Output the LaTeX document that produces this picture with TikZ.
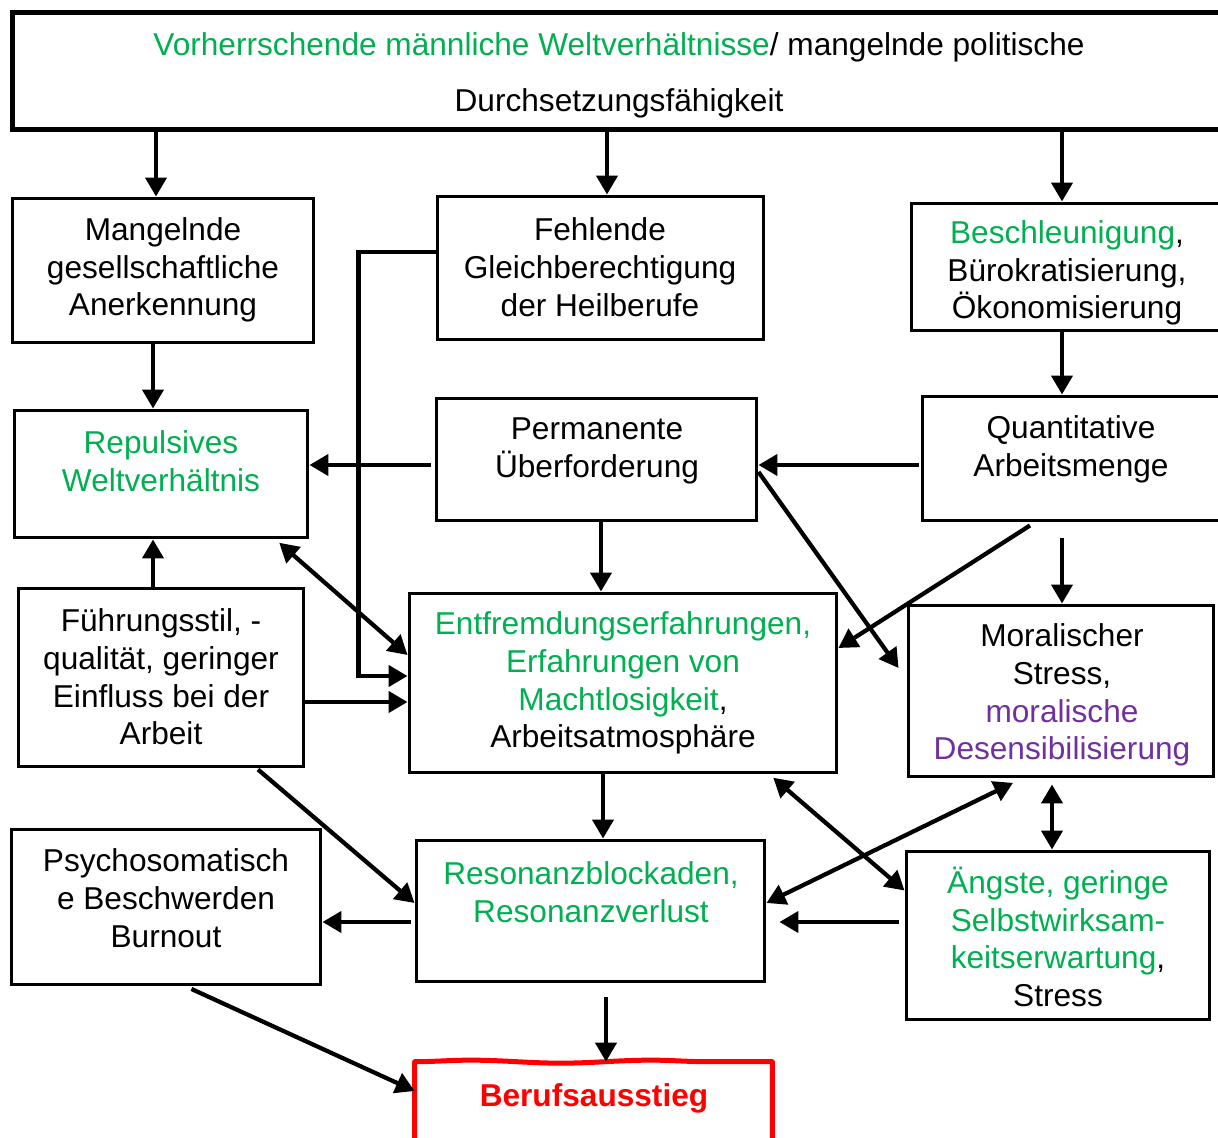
\documentclass[tikz,border=0pt]{standalone}
\usepackage{fontspec}
\setmainfont{Liberation Sans}
\usetikzlibrary{arrows.meta,decorations.pathmorphing}
\definecolor{grn}{RGB}{0,176,80}
\definecolor{purp}{RGB}{112,48,160}
\begin{document}
\begin{tikzpicture}[x=0.02cm,y=-0.02cm,
    every node/.style={font=\fontsize{18}{21.5}\selectfont},
    box/.style={draw,line width=0.06cm,inner sep=0pt},
    txt/.style={align=center,inner sep=0pt},
    arr/.style={line width=0.085cm,-{Triangle[length=0.38cm,width=0.42cm]}},
    darr/.style={line width=0.085cm,{Triangle[length=0.38cm,width=0.42cm]}-{Triangle[length=0.38cm,width=0.42cm]}},
    wave/.style={decoration={snake,amplitude=0.03cm,segment length=3.6cm}}]
    \useasboundingbox (0,0) rectangle (1218,1138);
    \node[box,line width=0.1cm,minimum width=24.76cm,minimum height=2.36cm] (top) at (631,71) {};
    \node[txt] (toptxt) at (619,75) {{\color{grn}Vorherrschende männliche Weltverhältnisse}/ mangelnde politische\\[0.36cm]Durchsetzungsfähigkeit};
    \node[box,minimum width=6.04cm,minimum height=2.9cm] (A) at (163,270.5) {};
    \node[txt] at (163,270) {Mangelnde\\gesellschaftliche\\Anerkennung};
    \node[box,minimum width=6.54cm,minimum height=2.88cm] (B) at (600.5,268) {};
    \node[txt] at (600,267) {Fehlende\\Gleichberechtigung\\der Heilberufe};
    \node[box,minimum width=6.58cm,minimum height=2.56cm] (C) at (1075.5,267) {};
    \node[txt] at (1067,273) {{\color{grn}Beschleunigung},\\Bürokratisierung,\\Ökonomisierung};
    \node[box,minimum width=5.88cm,minimum height=2.56cm] (D) at (161,474) {};
    \node[txt,text=grn] at (161,461) {Repulsives\\Weltverhältnis};
    \node[box,minimum width=6.42cm,minimum height=2.46cm] (E) at (596.5,459.5) {};
    \node[txt] at (597,451) {Permanente\\Überforderung};
    \node[box,minimum width=6.36cm,minimum height=2.5cm] (F) at (1081,458.5) {};
    \node[txt] at (1071,449) {Quantitative\\Arbeitsmenge};
    \node[box,minimum width=5.72cm,minimum height=3.58cm] (G) at (161,677.5) {};
    \node[txt] at (161,677) {Führungsstil, -\\qualität, geringer\\Einfluss bei der\\Arbeit};
    \node[box,minimum width=8.56cm,minimum height=3.6cm] (H) at (623,683) {};
    \node[txt] at (623,683) {{\color{grn}Entfremdungserfahrungen,}\\{\color{grn}Erfahrungen von}\\{\color{grn}Machtlosigkeit},\\Arbeitsatmosphäre};
    \node[box,minimum width=6.12cm,minimum height=3.44cm] (I) at (1061,691) {};
    \node[txt] at (1062,695) {Moralischer\\Stress,\\{\color{purp}moralische}\\{\color{purp}Desensibilisierung}};
    \node[box,minimum width=6.2cm,minimum height=3.12cm] (J) at (166,907) {};
    \node[txt] at (166,898) {Psychosomatisch\\e Beschwerden\\Burnout};
    \node[box,minimum width=6.98cm,minimum height=2.84cm] (K) at (590.5,911) {};
    \node[txt,text=grn] at (591,892) {Resonanzblockaden,\\Resonanzverlust};
    \node[box,minimum width=6.08cm,minimum height=3.38cm] (L) at (1058,935.5) {};
    \node[txt] at (1058,937) {{\color{grn}Ängste, geringe}\\{\color{grn}Selbstwirksam-}\\{\color{grn}keitserwartung},\\Stress};
    \node[inner sep=0pt,minimum width=7.14cm,minimum height=1.76cm] (M) at (593.5,1106) {};
    \draw[red,line width=0.1cm,line join=round,wave] (M.north west) decorate{-- (M.north east)}
        decorate{-- (M.south east)} decorate{-- (M.south west)} decorate{-- (M.north west)} -- cycle;
    \node[txt,text=red,font=\fontsize{18}{21.5}\selectfont\bfseries] at (594,1098) {Berufsausstieg};
    \draw[arr] ([xshift=-0.14cm]A.north |- top.south) -- ([xshift=-0.14cm]A.north);
    \draw[arr] ([xshift=0.13cm]B.north |- top.south) -- ([xshift=0.13cm]B.north);
    \draw[arr] ([xshift=-0.27cm]C.north |- top.south) -- ([xshift=-0.27cm]C.north);
    \draw[arr] ([xshift=-0.2cm]A.south) -- ([xshift=-0.2cm]A.south |- D.north);
    \draw[arr] ([xshift=-0.27cm]C.south) -- ([xshift=-0.27cm]C.south |- F.north);
    \draw[arr,shorten <=0.08cm] ([yshift=-0.11cm]E.west) -- ([yshift=-0.11cm]E.west -| D.east);
    \draw[arr,shorten <=0.04cm] ([yshift=-0.13cm]F.west) -- ([yshift=-0.13cm]F.west -| E.east);
    \draw[arr] ([xshift=0.09cm]E.south) -- ([xshift=0.09cm]E.south |- H.north);
    \draw[arr] ([xshift=-1.02cm,yshift=-0.06cm]F.south) -- ([yshift=0.7cm]H.east);
    \draw[arr] ([yshift=-0.25cm]E.east) -- ([xshift=-0.16cm,yshift=0.46cm]I.west);
    \draw[arr,shorten <=0.32cm] ([xshift=-0.38cm]F.south) -- ([xshift=-0.38cm]F.south |- I.north);
    \draw[arr] ([xshift=-0.16cm]G.north) -- ([xshift=-0.16cm]G.north |- D.south);
    \draw[darr,shorten <=0.1cm] ([xshift=-0.68cm]D.south east) -- ([yshift=0.56cm]H.west);
    \draw[arr] ([yshift=0.32cm]B.west) -- ++(-1.54cm,0) |- ([yshift=0.14cm]H.west);
    \draw[arr] ([yshift=-0.49cm]G.east) -- ([yshift=-0.49cm]G.east -| H.west);
    \draw[arr] ([xshift=1.94cm,yshift=-0.02cm]G.south) -- ([yshift=0.16cm]K.west);
    \draw[arr] ([xshift=-0.4cm]H.south) -- ([xshift=-0.4cm]H.south |- K.north);
    \draw[darr,shorten <=0.1cm] ([xshift=-1.38cm]H.south east) -- ([yshift=0.9cm]L.west);
    \draw[darr,shorten <=0.2cm] ([xshift=-0.78cm]I.south) -- ([yshift=0.16cm]K.east);
    \draw[darr,shorten <=0.12cm] ([xshift=-0.18cm]I.south) -- ([xshift=-0.18cm]I.south |- L.north);
    \draw[arr,shorten <=0.12cm,shorten >=0.26cm] ([yshift=0.27cm]L.west) -- ([yshift=0.27cm]L.west -| K.east);
    \draw[arr,shorten <=0.08cm] ([yshift=-0.22cm]K.west) -- ([yshift=-0.22cm]K.west -| J.east);
    \draw[arr,shorten <=0.12cm] ([xshift=0.4cm]J.south) -- ([yshift=0.3cm]M.west);
    \draw[arr,shorten <=0.28cm] ([xshift=0.31cm]K.south) -- ([xshift=0.31cm]K.south |- M.north);
\end{tikzpicture}
\end{document}
